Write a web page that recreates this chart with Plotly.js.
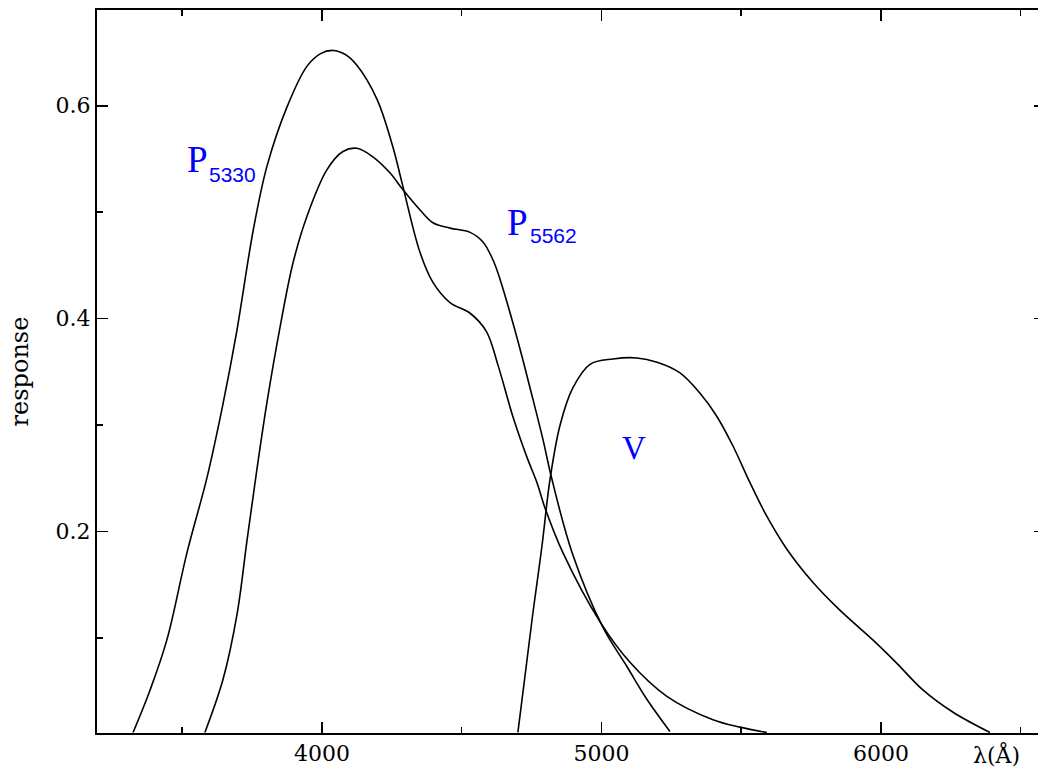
<!DOCTYPE html>
<html>
<head>
<meta charset="utf-8">
<script src="https://cdn.plot.ly/plotly-3.0.1.min.js"></script>
<style>
html, body { margin: 0; padding: 0; background: #fff; overflow: hidden; }
#chart { width: 1046px; height: 771px; }
</style>
</head>
<body>
<div id="chart"></div>
<script>
// Wavelength (Å) and response values
const wlP5330 = [3324, 3385, 3445, 3517, 3589, 3646, 3695, 3754, 3803, 3875, 3946, 3995, 4039, 4085, 4125, 4197, 4254, 4286, 4351, 4397, 4458, 4530, 4588, 4630, 4683, 4733, 4769, 4798, 4862, 4995, 5102, 5234, 5399, 5496, 5592];
const respP5330 = [0.011, 0.051, 0.098, 0.180, 0.251, 0.320, 0.388, 0.483, 0.543, 0.599, 0.637, 0.649, 0.652, 0.648, 0.638, 0.606, 0.561, 0.528, 0.462, 0.434, 0.415, 0.405, 0.388, 0.356, 0.308, 0.270, 0.246, 0.222, 0.180, 0.115, 0.077, 0.045, 0.023, 0.016, 0.011];

const wlP5562 = [3581, 3646, 3696, 3732, 3767, 3803, 3850, 3896, 3946, 4018, 4075, 4125, 4182, 4243, 4290, 4351, 4397, 4458, 4530, 4576, 4612, 4637, 4683, 4719, 4755, 4791, 4820, 4895, 5005, 5091, 5163, 5245];
const respP5562 = [0.011, 0.061, 0.122, 0.192, 0.258, 0.321, 0.392, 0.452, 0.496, 0.540, 0.557, 0.560, 0.552, 0.537, 0.521, 0.502, 0.490, 0.485, 0.481, 0.472, 0.455, 0.437, 0.396, 0.361, 0.324, 0.286, 0.252, 0.180, 0.110, 0.073, 0.042, 0.012];

const wlV = [4701, 4755, 4787, 4816, 4852, 4898, 4959, 5041, 5127, 5199, 5281, 5352, 5413, 5471, 5531, 5592, 5664, 5757, 5853, 5971, 6057, 6150, 6258, 6390];
const respV = [0.011, 0.124, 0.186, 0.249, 0.300, 0.335, 0.357, 0.362, 0.363, 0.359, 0.349, 0.330, 0.308, 0.280, 0.246, 0.214, 0.183, 0.152, 0.126, 0.098, 0.076, 0.051, 0.030, 0.011];

const xMajorTicks = [4000, 5000, 6000];
const yMajorTicks = [0.2, 0.4, 0.6];

const lineStyle = {color: '#000', width: 1.6, shape: 'spline', smoothing: 1.0, simplify: false};

const traces = [
  {x: wlP5330, y: respP5330, mode: 'lines', line: lineStyle, name: 'P5330', hoverinfo: 'skip'},
  {x: wlP5562, y: respP5562, mode: 'lines', line: lineStyle, name: 'P5562', hoverinfo: 'skip'},
  {x: wlV, y: respV, mode: 'lines', line: lineStyle, name: 'V', hoverinfo: 'skip'}
];

const blue = '#0000ff';
const serifBig = {family: 'Liberation Serif, serif', size: 37, color: blue};
const subFont = {family: 'Liberation Sans, Arial, sans-serif', size: 21, color: blue};
const tickFont = {family: 'DejaVu Serif, serif', size: 22, color: '#000'};

const layout = {
  width: 1046,
  height: 771,
  margin: {l: 97, r: 1, t: 10, b: 38, pad: 0},
  paper_bgcolor: '#fff',
  plot_bgcolor: '#fff',
  showlegend: false,
  xaxis: {
    range: [3195, 6587],
    showgrid: false, zeroline: false,
    showline: true, linewidth: 2, linecolor: '#000', mirror: 'ticks',
    ticks: 'inside', ticklen: 11, tickwidth: 1.5, tickcolor: '#000',
    tickmode: 'array', tickvals: xMajorTicks,
    ticktext: xMajorTicks.map(String),
    tickfont: tickFont,
    minor: {dtick: 500, tick0: 0, ticks: 'inside', ticklen: 6, tickwidth: 1.5, tickcolor: '#000', showgrid: false}
  },
  yaxis: {
    range: [0.0105, 0.690],
    showgrid: false, zeroline: false,
    showline: true, linewidth: 2, linecolor: '#000', mirror: 'ticks',
    ticks: 'inside', ticklen: 11, tickwidth: 1.5, tickcolor: '#000',
    tickmode: 'array', tickvals: yMajorTicks,
    ticktext: yMajorTicks.map(v => v.toFixed(1)),
    tickfont: tickFont,
    minor: {dtick: 0.1, tick0: 0, ticks: 'inside', ticklen: 6, tickwidth: 1.5, tickcolor: '#000', showgrid: false},
    title: {text: 'response', font: {family: 'DejaVu Serif, serif', size: 24, color: '#000'}, standoff: 20}
  },
  annotations: [
    {text: 'P', xref: 'x', yref: 'y', x: 3553, y: 0.5497, xanchor: 'center', yanchor: 'middle', showarrow: false, font: serifBig},
    {text: '5330', xref: 'x', yref: 'y', x: 3680, y: 0.5356, xanchor: 'center', yanchor: 'middle', showarrow: false, font: subFont},
    {text: 'P', xref: 'x', yref: 'y', x: 4699, y: 0.4905, xanchor: 'center', yanchor: 'middle', showarrow: false, font: serifBig},
    {text: '5562', xref: 'x', yref: 'y', x: 4830, y: 0.4783, xanchor: 'center', yanchor: 'middle', showarrow: false, font: subFont},
    {text: 'V', xref: 'x', yref: 'y', x: 5116, y: 0.278, xanchor: 'center', yanchor: 'middle', showarrow: false, font: {family: 'Liberation Serif, serif', size: 33, color: blue}},
    {text: 'λ(Å)', xref: 'x', yref: 'paper', x: 6413, y: -0.0304, xanchor: 'center', yanchor: 'middle', showarrow: false, font: tickFont}
  ]
};

Plotly.newPlot('chart', traces, layout, {displayModeBar: false, staticPlot: true});
</script>
</body>
</html>
